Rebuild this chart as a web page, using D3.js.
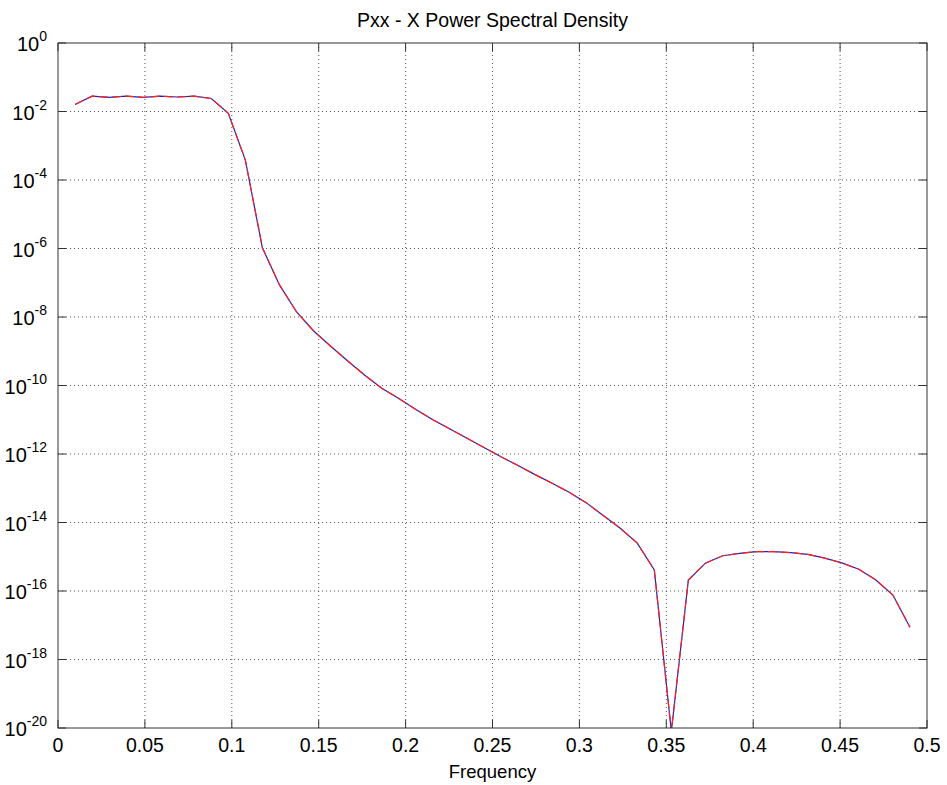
<!DOCTYPE html>
<html>
<head>
<meta charset="utf-8">
<script src="https://cdn.jsdelivr.net/npm/d3@7"></script>
<style>
  body { margin: 0; background: #fff; }
  text { font-family: "Liberation Sans", Arial, sans-serif; fill: #000; }
</style>
</head>
<body>
<div id="chart"></div>
<script>
// frequency bins (k / 102)
var freq = [0.0098, 0.0196, 0.0294, 0.0392, 0.0490, 0.0588, 0.0686, 0.0784, 0.0882, 0.0980,
  0.1078, 0.1176, 0.1275, 0.1373, 0.1471, 0.1569, 0.1667, 0.1765, 0.1863, 0.1961,
  0.2059, 0.2157, 0.2255, 0.2353, 0.2451, 0.2549, 0.2647, 0.2745, 0.2843, 0.2941,
  0.3039, 0.3137, 0.3235, 0.3333, 0.3431, 0.3529, 0.3627, 0.3725, 0.3824, 0.3922,
  0.4020, 0.4118, 0.4216, 0.4314, 0.4412, 0.4510, 0.4608, 0.4706, 0.4804, 0.4902];

// power spectral density estimate
var pxx = [1.6e-2, 2.8e-2, 2.6e-2, 2.8e-2, 2.6e-2, 2.8e-2, 2.65e-2, 2.8e-2, 2.4e-2, 8.9e-3,
  3.8e-4, 1.05e-6, 8.5e-8, 1.4e-8, 3.9e-9, 1.4e-9, 5.2e-10, 2.0e-10, 8.3e-11, 4.2e-11,
  2.0e-11, 1.0e-11, 5.4e-12, 2.9e-12, 1.55e-12, 8.3e-13, 4.6e-13, 2.5e-13, 1.4e-13, 7.6e-14,
  3.8e-14, 1.6e-14, 6.8e-15, 2.5e-15, 4.1e-16, 8e-21, 2.1e-16, 6.5e-16, 1.07e-15, 1.26e-15,
  1.41e-15, 1.41e-15, 1.32e-15, 1.17e-15, 9.1e-16, 6.6e-16, 4.3e-16, 2.1e-16, 7.6e-17, 8.7e-18];

var xTicks = [0, 0.05, 0.1, 0.15, 0.2, 0.25, 0.3, 0.35, 0.4, 0.45, 0.5];
var xTickLabels = ['0', '0.05', '0.1', '0.15', '0.2', '0.25', '0.3', '0.35', '0.4', '0.45', '0.5'];
var yExponents = [0, -2, -4, -6, -8, -10, -12, -14, -16, -18, -20];

var width = 947, height = 785;
var margin = {top: 43, right: 20, bottom: 57, left: 58};
var w = width - margin.left - margin.right;
var h = height - margin.top - margin.bottom;

var svg = d3.select('#chart').append('svg')
  .attr('width', width)
  .attr('height', height);

var x = d3.scaleLinear().domain([0, 0.5]).range([0, w]);
var y = d3.scaleLog().domain([1e-20, 1]).range([h, 0]);

var g = svg.append('g').attr('transform', 'translate(' + margin.left + ',' + margin.top + ')');

// grid
g.append('g').selectAll('line.vg')
  .data(xTicks.slice(1, -1))
  .enter().append('line')
  .attr('x1', function (d) { return x(d); })
  .attr('x2', function (d) { return x(d); })
  .attr('y1', 0).attr('y2', h)
  .attr('stroke', '#555').attr('stroke-width', 1)
  .attr('stroke-dasharray', '1,3');

g.append('g').selectAll('line.hg')
  .data(yExponents.slice(1, -1))
  .enter().append('line')
  .attr('x1', 0).attr('x2', w)
  .attr('y1', function (d) { return y(Math.pow(10, d)); })
  .attr('y2', function (d) { return y(Math.pow(10, d)); })
  .attr('stroke', '#555').attr('stroke-width', 1)
  .attr('stroke-dasharray', '1,3');

// inward ticks on all four sides
var tl = 8;
xTicks.forEach(function (t) {
  g.append('line').attr('x1', x(t)).attr('x2', x(t)).attr('y1', h).attr('y2', h - tl)
    .attr('stroke', '#333');
  g.append('line').attr('x1', x(t)).attr('x2', x(t)).attr('y1', 0).attr('y2', tl)
    .attr('stroke', '#333');
});
yExponents.forEach(function (e) {
  var yy = y(Math.pow(10, e));
  g.append('line').attr('x1', 0).attr('x2', tl).attr('y1', yy).attr('y2', yy).attr('stroke', '#333');
  g.append('line').attr('x1', w).attr('x2', w - tl).attr('y1', yy).attr('y2', yy).attr('stroke', '#333');
});

// data lines
g.append('clipPath').attr('id', 'clip')
  .append('rect').attr('width', w).attr('height', h);

var line = d3.line()
  .x(function (d, i) { return x(freq[i]); })
  .y(function (d) { return y(d); });

g.append('path')
  .datum(pxx)
  .attr('clip-path', 'url(#clip)')
  .attr('fill', 'none')
  .attr('stroke', '#2020c0')
  .attr('stroke-width', 1.2)
  .attr('d', line);

g.append('path')
  .datum(pxx)
  .attr('clip-path', 'url(#clip)')
  .attr('fill', 'none')
  .attr('stroke', '#ff2020')
  .attr('stroke-width', 1.2)
  .attr('stroke-dasharray', '9,4')
  .attr('d', line);

// frame
g.append('rect')
  .attr('width', w).attr('height', h)
  .attr('fill', 'none').attr('stroke', '#333').attr('stroke-width', 1);

// x labels
g.append('g').selectAll('text')
  .data(xTicks)
  .enter().append('text')
  .attr('x', function (d) { return x(d); })
  .attr('y', h + 24)
  .attr('text-anchor', 'middle')
  .style('font-size', '19.5px')
  .text(function (d, i) { return xTickLabels[i]; });

// y labels: 10^e
var yl = g.append('g').selectAll('text')
  .data(yExponents)
  .enter().append('text')
  .attr('x', -11)
  .attr('y', function (d) { return y(Math.pow(10, d)) + 8; })
  .attr('text-anchor', 'end')
  .style('font-size', '20px');
yl.append('tspan').text('10');
yl.append('tspan')
  .attr('dy', -10)
  .style('font-size', '14px')
  .text(function (d) { return d; });

// titles
svg.append('text')
  .attr('x', margin.left + w / 2)
  .attr('y', 27)
  .attr('text-anchor', 'middle')
  .style('font-size', '19.5px')
  .text('Pxx - X Power Spectral Density');

svg.append('text')
  .attr('x', margin.left + w / 2)
  .attr('y', 778)
  .attr('text-anchor', 'middle')
  .style('font-size', '18.5px')
  .text('Frequency');
</script>
</body>
</html>
